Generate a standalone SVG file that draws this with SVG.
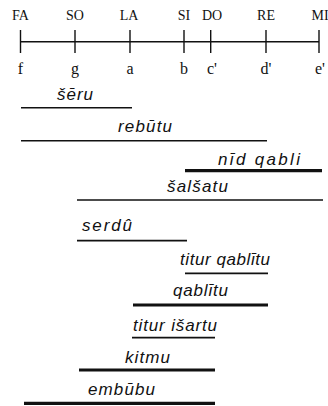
<svg xmlns="http://www.w3.org/2000/svg" width="328" height="406" viewBox="0 0 328 406">
<style>
.bg{fill:#fff}
.ax{stroke:#111;stroke-width:1.4;fill:none}
.note{font-family:"Liberation Serif","Times New Roman",serif;font-size:14px;fill:#111;text-anchor:middle}
.pitch{font-family:"Liberation Serif","Times New Roman",serif;font-size:16px;fill:#111;text-anchor:middle}
.lbl{font-family:"Liberation Sans",Arial,sans-serif;font-size:17px;font-style:italic;fill:#111}
.thin{stroke:#111;stroke-width:1.4}
.mid{stroke:#111;stroke-width:1.7}
.thick{stroke:#111;stroke-width:3.2}
</style>
<rect class="bg" x="0" y="0" width="328" height="406"/>
<g id="scale">
<line class="ax" x1="20" y1="41.7" x2="319" y2="41.7"/>
<line class="ax" x1="20.5" y1="30" x2="20.5" y2="53"/>
<line class="ax" x1="75" y1="30" x2="75" y2="53"/>
<line class="ax" x1="130" y1="30" x2="130" y2="53"/>
<line class="ax" x1="184" y1="30" x2="184" y2="53"/>
<line class="ax" x1="210.7" y1="30" x2="210.7" y2="53"/>
<line class="ax" x1="266" y1="30" x2="266" y2="53"/>
<line class="ax" x1="319" y1="30" x2="319" y2="53"/>
<text class="note" x="20.5" y="20">FA</text>
<text class="note" x="75" y="20">SO</text>
<text class="note" x="129" y="20">LA</text>
<text class="note" x="184" y="20">SI</text>
<text class="note" x="212" y="20">DO</text>
<text class="note" x="266" y="20">RE</text>
<text class="note" x="320" y="20">MI</text>
<text class="pitch" x="20.5" y="74">f</text>
<text class="pitch" x="75" y="74">g</text>
<text class="pitch" x="130" y="74">a</text>
<text class="pitch" x="184" y="74">b</text>
<text class="pitch" x="212" y="74">c'</text>
<text class="pitch" x="266" y="74">d'</text>
<text class="pitch" x="320" y="74">e'</text>
</g>
<g id="seru"><line class="thin" x1="21" y1="107.7" x2="132" y2="107.7"/><text class="lbl" x="57" y="100" textLength="36" lengthAdjust="spacing">šēru</text></g>
<g id="rebutu"><line class="thin" x1="21" y1="140.7" x2="267" y2="140.7"/><text class="lbl" x="118" y="132" textLength="54" lengthAdjust="spacing">rebūtu</text></g>
<g id="nid-qabli"><line class="thick" x1="185" y1="170.7" x2="322" y2="170.7"/><text class="lbl" x="218" y="165" textLength="82" lengthAdjust="spacing">nīd qabli</text></g>
<g id="salsatu"><line class="mid" x1="77" y1="200" x2="323" y2="200"/><text class="lbl" x="167" y="192" textLength="61" lengthAdjust="spacing">šalšatu</text></g>
<g id="serdu"><line class="mid" x1="77" y1="240.7" x2="187" y2="240.7"/><text class="lbl" x="82" y="231" textLength="50" lengthAdjust="spacing">serdû</text></g>
<g id="titur-qablitu"><line class="mid" x1="185" y1="273.3" x2="268" y2="273.3"/><text class="lbl" x="180" y="265" textLength="90" lengthAdjust="spacing">titur qablītu</text></g>
<g id="qablitu"><line class="thick" x1="133" y1="305" x2="268" y2="305"/><text class="lbl" x="173" y="296" textLength="55" lengthAdjust="spacing">qablītu</text></g>
<g id="titur-isartu"><line class="mid" x1="132" y1="337.7" x2="215" y2="337.7"/><text class="lbl" x="133" y="331" textLength="84" lengthAdjust="spacing">titur išartu</text></g>
<g id="kitmu"><line class="thick" x1="79" y1="370" x2="215" y2="370"/><text class="lbl" x="125" y="363" textLength="45" lengthAdjust="spacing">kitmu</text></g>
<g id="embubu"><line class="thick" x1="24" y1="403.3" x2="215" y2="403.3"/><text class="lbl" x="88" y="395" textLength="67" lengthAdjust="spacing">embūbu</text></g>
<g id="connectors"></g>
</svg>
